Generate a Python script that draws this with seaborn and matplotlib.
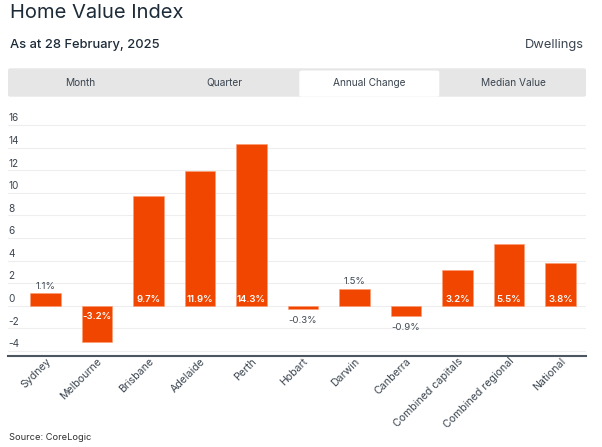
import matplotlib
matplotlib.use("Agg")
import matplotlib.pyplot as plt
import matplotlib.transforms as mtransforms
from matplotlib.patches import FancyBboxPatch
import seaborn as sns

# ------------------------------
# Data
# ------------------------------
regions = [
    "Sydney", "Melbourne", "Brisbane", "Adelaide", "Perth", "Hobart",
    "Darwin", "Canberra", "Combined capitals", "Combined regional", "National",
]
annual_change = [1.1, -3.2, 9.7, 11.9, 14.3, -0.3, 1.5, -0.9, 3.2, 5.5, 3.8]
y_ticks = [-4, -2, 0, 2, 4, 6, 8, 10, 12, 14, 16]
tabs = ["Month", "Quarter", "Annual Change", "Median Value"]
active_tab = "Annual Change"

title = "Home Value Index"
subtitle = "As at 28 February, 2025"
right_note = "Dwellings"
source = "Source: CoreLogic"

BAR_COLOR = "#f04600"
TEXT_DARK = "#1d2b38"
TEXT_GREY = "#3b4550"

W, H = 602, 447


def fx(px):
    return px / W


def fy(py):
    return 1 - py / H


def main():
    sns.set_style("white")
    plt.rcParams["font.family"] = ["Inter", "DejaVu Sans"]

    fig = plt.figure(figsize=(W / 100, H / 100), dpi=100)

    # header texts
    fig.text(fx(10), fy(18.5), title, fontsize=14.5, color=TEXT_DARK, va="baseline")
    fig.text(fx(10), fy(47.7), subtitle, fontsize=9.3, color=TEXT_DARK,
             fontweight="medium", va="baseline")
    fig.text(fx(584), fy(47.7), right_note, fontsize=9.3, color=TEXT_GREY,
             ha="right", va="baseline")

    # tab bar
    bar_left, bar_right, bar_top, bar_bottom = 8, 586, 68.3, 96.7
    fig.patches.append(FancyBboxPatch(
        (fx(bar_left), fy(bar_bottom)), fx(bar_right - bar_left), (bar_bottom - bar_top) / H,
        boxstyle="round,pad=0,rounding_size=0.004", transform=fig.transFigure,
        facecolor="#e6e6e6", edgecolor="none"))
    tab_w = (bar_right - bar_left) / len(tabs)
    for i, name in enumerate(tabs):
        cx = bar_left + tab_w * (i + 0.5)
        if name == active_tab:
            fig.patches.append(FancyBboxPatch(
                (fx(299.3), fy(bar_bottom)), fx(140), (bar_bottom - 70.5) / H,
                boxstyle="round,pad=0,rounding_size=0.004", transform=fig.transFigure,
                facecolor="white", edgecolor="none"))
            cx = 369.3
        fig.text(fx(cx), fy(82.6), name, fontsize=7.3, color=TEXT_GREY,
                 ha="center", va="center")

    # chart area
    ax = fig.add_axes([fx(8), fy(355.7), fx(578), (355.7 - 112) / H])
    sns.barplot(x=regions, y=annual_change, color=BAR_COLOR, saturation=1,
                width=0.6, edgecolor="#ff9a70", linewidth=0.4, ax=ax)
    ax.set_xlim(-0.728, 10.495)
    ax.set_ylim(-4.42, 17.15)

    ax.set_yticks(y_ticks)
    ax.yaxis.grid(True, color="#eeeeee", linewidth=0.8)
    ax.set_axisbelow(True)
    ax.tick_params(axis="y", left=False, labelleft=False)
    for t in y_ticks:
        ax.annotate(str(t), xy=(0, t), xycoords=ax.get_yaxis_transform(),
                    xytext=(0.5, 4.8), textcoords="offset points",
                    ha="left", va="center", fontsize=7.2, color=TEXT_GREY)

    for side in ["top", "left", "right"]:
        ax.spines[side].set_visible(False)
    ax.spines["bottom"].set_color("#4b5661")
    ax.spines["bottom"].set_linewidth(1.5)

    ax.tick_params(axis="x", length=0, pad=3)
    offset = mtransforms.ScaledTranslation(3.5 / 100, 0, fig.dpi_scale_trans)
    for lbl in ax.get_xticklabels():
        lbl.set_rotation(45)
        lbl.set_ha("right")
        lbl.set_va("center")
        lbl.set_rotation_mode("anchor")
        lbl.set_fontsize(7.6)
        lbl.set_color(TEXT_GREY)
        lbl.set_transform(lbl.get_transform() + offset)

    # value labels: inside near the base for big bars, outside for small ones
    for i, v in enumerate(annual_change):
        text = f"{v:.1f}%"
        if abs(v) >= 2:
            dy = 4.6 if v > 0 else -7.4
            ax.annotate(text, xy=(i, 0), xytext=(0, dy), textcoords="offset points",
                        ha="center", va="center", fontsize=6.9, color="white",
                        fontweight="semibold")
        else:
            dy = 5 if v > 0 else -8
            ax.annotate(text, xy=(i, v), xytext=(0, dy), textcoords="offset points",
                        ha="center", va="center", fontsize=6.9, color=TEXT_GREY)

    ax.set_xlabel("")
    ax.set_ylabel("")

    fig.text(fx(9), fy(437.3), source, fontsize=6.7, color="#333333",
             ha="left", va="center")

    fig.savefig("out.png", dpi=100)
    plt.close(fig)


if __name__ == "__main__":
    main()
